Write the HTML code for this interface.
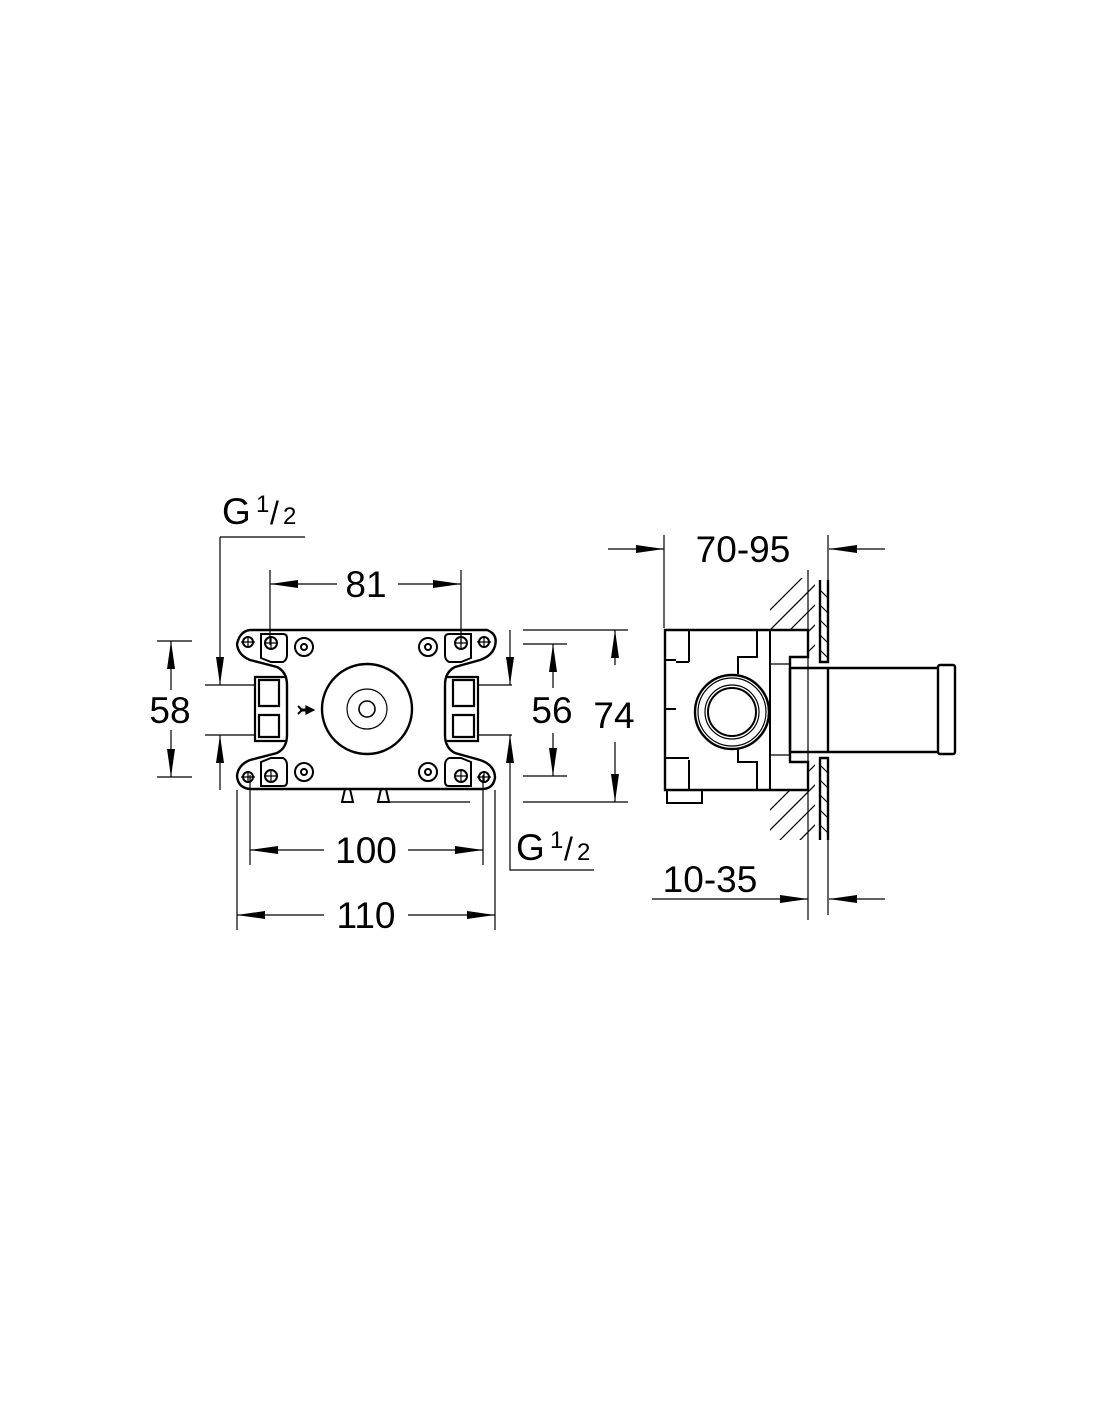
<!DOCTYPE html>
<html><head><meta charset="utf-8"><style>
html,body{margin:0;padding:0;background:#fff;}
svg{display:block;}
text{font-family:"Liberation Sans",sans-serif;fill:#000;}
</style></head><body>
<svg width="1100" height="1422" viewBox="0 0 1100 1422" xmlns="http://www.w3.org/2000/svg">
<defs>
<marker id="a" viewBox="0 0 10 10" refX="10" refY="5" markerWidth="28" markerHeight="10" markerUnits="userSpaceOnUse" orient="auto-start-reverse" preserveAspectRatio="none"><path d="M0,1 L10,5 L0,9 Z" fill="#000"/></marker>
<clipPath id="h1"><rect x="770" y="578" width="45" height="52"/><rect x="808" y="630" width="7" height="27"/></clipPath>
<clipPath id="h2"><rect x="770" y="790" width="45" height="50"/><rect x="808" y="762" width="7" height="28"/></clipPath>
</defs>
<g stroke="#000" fill="none" stroke-width="1.2">
<path stroke-width="2.4" d="M250,630 L487,630 Q498,634 495,646 Q492,656 480,660 L455,667 Q445,672 445,685 L445,735 Q445,748 455,753 L480,760 Q495,765 495,778 Q493,789 482,789 L250,789 Q238,788 237,776 Q238,765 250,760 L277,753 Q287,748 287,735 L287,685 Q287,672 277,667 L250,660 Q238,655 237,644 Q240,631 250,630 Z"/>
<path stroke-width="2" d="M261,634 L261,658 L271,662 L283,662 Q287,660 287,655 L287,638 Q287,634 283,634 Z"/>
<path stroke-width="2" d="M471,634 L471,658 L461,662 L449,662 Q445,660 445,655 L445,638 Q445,634 449,634 Z"/>
<path stroke-width="2" d="M261,786 L261,762 L271,758 L283,758 Q287,760 287,765 L287,782 Q287,786 283,786 Z"/>
<path stroke-width="2" d="M471,786 L471,762 L461,758 L449,758 Q445,760 445,765 L445,782 Q445,786 449,786 Z"/>
<g stroke-width="2">
<circle cx="248" cy="642" r="5"/><circle cx="271" cy="643" r="6"/>
<circle cx="484" cy="642" r="5"/><circle cx="461" cy="643" r="6"/>
<circle cx="248" cy="777" r="5"/><circle cx="271" cy="776" r="6"/>
<circle cx="484" cy="777" r="5"/><circle cx="461" cy="776" r="6"/>
<circle cx="304" cy="647" r="9"/><circle cx="304" cy="647" r="3"/>
<circle cx="428" cy="647" r="9"/><circle cx="428" cy="647" r="3"/>
<circle cx="304" cy="772" r="9"/><circle cx="304" cy="772" r="3"/>
<circle cx="428" cy="772" r="9"/><circle cx="428" cy="772" r="3"/>
</g>
<path d="M241,642h14M248,636v12M265,643h12M271,637v12M477,642h14M484,636v12M455,643h12M461,637v12M241,777h14M248,771v12M265,776h12M271,770v12M477,777h14M484,771v12M455,776h12M461,770v12"/>
<circle cx="367" cy="709" r="45" stroke-width="2.4"/>
<circle cx="367" cy="709" r="20"/>
<circle cx="367" cy="709" r="8" stroke-width="1.6"/>
<path d="M300,710 l8,0" stroke-width="3"/><path d="M306,706 l8,4 l-8,4z" fill="#000"/><path d="M298,706 l4,4 l-4,4" stroke-width="2"/>
<path stroke-width="2.2" d="M287,677 L255,677 L255,741 L287,741 M259,680 L279,680 L279,706 L259,706 Z M259,715 L279,715 L279,737 L259,737 Z"/>
<path stroke-width="2.2" d="M445,677 L478,677 L478,741 L445,741 M453,680 L474,680 L474,706 L453,706 Z M453,715 L474,715 L474,737 L453,737 Z"/>
<path stroke-width="2" d="M345,789 L342,802 L353,802 L350,789 M381,789 L378,802 L389,802 L386,789"/>
<path d="M389,802 L470,802"/>

<path d="M220,537 L305,537 M220,537 L220,685" marker-end="url(#a)"/>
<path d="M205,685 L255,685 M205,735 L255,735"/>
<path d="M220,790 L220,735" marker-end="url(#a)"/>
<path d="M157,641 L192,641 M157,777 L192,777"/>
<path d="M171,690 L171,641" marker-end="url(#a)"/><path d="M171,730 L171,777" marker-end="url(#a)"/>
<path d="M270,570 L270,645 M461,570 L461,645"/>
<path d="M337,584 L270,584" marker-end="url(#a)"/><path d="M398,584 L461,584" marker-end="url(#a)"/>
<path d="M523,644 L567,644 M523,776 L567,776"/>
<path d="M553,688 L553,644" marker-end="url(#a)"/><path d="M553,733 L553,776" marker-end="url(#a)"/>
<path d="M523,630 L628,630 M523,802 L628,802"/>
<path d="M615,665 L615,630" marker-end="url(#a)"/><path d="M615,742 L615,802" marker-end="url(#a)"/>
<path d="M510,630 L510,685" marker-end="url(#a)"/>
<path d="M478,685 L512,685 M478,735 L512,735"/>
<path d="M594,870 L510,870 L510,735" marker-end="url(#a)"/>
<path d="M250,775 L250,865 M483,775 L483,865"/>
<path d="M324,850 L250,850" marker-end="url(#a)"/><path d="M408,850 L483,850" marker-end="url(#a)"/>
<path d="M237,790 L237,930 M495,790 L495,930"/>
<path d="M324,915 L237,915" marker-end="url(#a)"/><path d="M408,915 L495,915" marker-end="url(#a)"/>

<path stroke-width="2.4" d="M665,630 L808,630 L808,657 L790,657 L790,762 L808,762 L808,790 L665,790 Z"/>
<path stroke-width="2" d="M667,790 L667,803 L702,803 L702,790"/>
<path stroke-width="2" d="M689,630 L689,662 M665,660 L676,660 M676,662 L689,662 M689,760 L689,790 M665,758 L676,758 M676,758 L689,758 M665,709 L676,709"/>
<path stroke-width="2" d="M757,630 L757,657 L738,657 L738,674 M738,748 L738,762 L757,762 L757,790 M770,630 L770,790"/>
<path d="M770,664 L790,664 M770,755 L790,755"/>
<circle cx="732" cy="712" r="37" stroke-width="2.4"/>
<circle cx="732" cy="712" r="34"/>
<circle cx="732" cy="712" r="27"/>
<circle cx="732" cy="712" r="24" stroke-width="2"/>
<path stroke-width="2.4" d="M790,668 L938,668 M790,752 L938,752 M828,668 L828,752 M790,668 L790,752"/>
<rect x="938" y="665" width="17" height="89" rx="2" stroke-width="2.4"/>
<path stroke-width="2.4" d="M820,580 L820,662 L828,662 L828,580 M820,840 L820,758 L828,758 L828,840"/>
<path d="M808,570 L808,920 M828,535 L828,580 M828,840 L828,915 M664,535 L664,628"/>
<g clip-path="url(#h1)"><path d="M760,620 L820,560 M760,640 L820,580 M760,660 L820,600 M760,680 L820,620 M760,700 L820,640 M760,720 L820,660"/></g>
<g clip-path="url(#h2)"><path d="M760,800 L820,740 M760,820 L820,760 M760,840 L820,780 M760,860 L820,800 M760,880 L820,820 M760,900 L820,840"/></g>
<path d="M820,590 L828,598 M820,605 L828,613 M820,620 L828,628 M820,635 L828,643 M820,650 L828,658 M820,765 L828,773 M820,780 L828,788 M820,795 L828,803 M820,810 L828,818 M820,825 L828,833"/>
<path d="M608,549 L664,549" marker-end="url(#a)"/><path d="M885,549 L829,549" marker-end="url(#a)"/>
<path d="M652,899 L808,899" marker-end="url(#a)"/><path d="M885,899 L829,899" marker-end="url(#a)"/>
</g>
<g font-size="37">
<text x="222" y="524">G</text><text x="256" y="512" font-size="24">1</text><text x="270" y="524" font-size="32">/</text><text x="283" y="524" font-size="24">2</text>
<text x="366" y="597" text-anchor="middle">81</text>
<text x="170" y="723" text-anchor="middle">58</text>
<text x="552" y="723" text-anchor="middle">56</text>
<text x="614" y="728" text-anchor="middle">74</text>
<text x="366" y="863" text-anchor="middle">100</text>
<text x="366" y="928" text-anchor="middle">110</text>
<text x="516" y="860">G</text><text x="550" y="848" font-size="24">1</text><text x="564" y="860" font-size="32">/</text><text x="577" y="860" font-size="24">2</text>
<text x="743" y="562" text-anchor="middle">70-95</text>
<text x="710" y="892" text-anchor="middle">10-35</text>
</g>
</svg>
</body></html>
